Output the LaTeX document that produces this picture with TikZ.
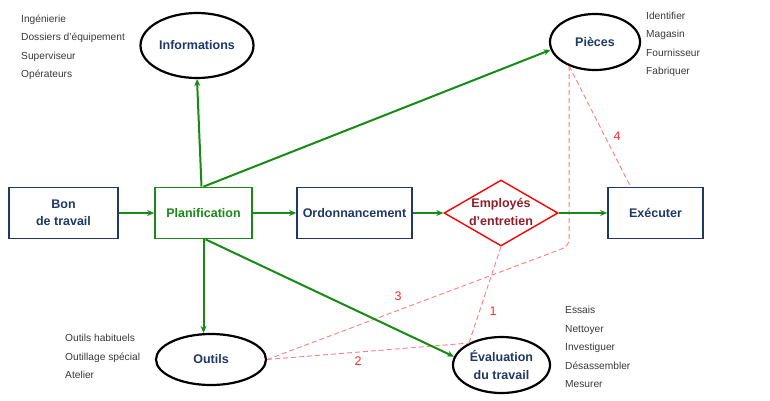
\documentclass[tikz,border=0pt]{standalone}
\usepackage{fontspec}
\setmainfont{Liberation Sans}
\usetikzlibrary{shapes.geometric,arrows.meta,calc}
\definecolor{navy}{HTML}{1F3864}
\definecolor{grn}{HTML}{178A17}
\definecolor{dashred}{HTML}{FF7C80}
\definecolor{maroon}{HTML}{8E1E2A}
\definecolor{txtgray}{HTML}{3A3A3A}
\definecolor{numred}{HTML}{FF2A2A}
\tikzset{
  x=1pt, y=-1pt,
  boxnode/.style={draw=navy, line width=1.7pt, rectangle, text=navy, align=center,
    font=\fontsize{12.5}{17}\selectfont\bfseries, inner sep=0pt},
  ellnode/.style={draw=black, line width=2.2pt, ellipse, text=navy, align=center,
    font=\fontsize{12.5}{18}\selectfont\bfseries, inner sep=0pt},
  flow/.style={draw=grn, line width=2pt, -{Stealth[length=7pt,width=6pt]}},
  dashln/.style={draw=dashred, line width=0.9pt, dash pattern=on 5pt off 3pt},
  sidelist/.style={align=left, text=txtgray, inner sep=0pt, anchor=west,
    font=\fontsize{10.2}{18.5}\selectfont},
  numlbl/.style={text=numred, inner sep=0pt, font=\fontsize{12.5}{14}\selectfont}
}
\begin{document}
\begin{tikzpicture}
\useasboundingbox[fill=white] (0,0) rectangle (770,400);
% boxes
\node[boxnode, minimum width=109pt, minimum height=51pt] (bon) at (63.5,213) {Bon\\de travail};
\node[boxnode, draw=grn, text=grn, minimum width=97pt, minimum height=51pt] (plan) at (203.5,213) {Planification};
\node[boxnode, minimum width=115pt, minimum height=51pt] (ord) at (354.5,213) {Ordonnancement};
\node[diamond, draw=red, line width=1.4pt, minimum width=114pt, minimum height=66pt, inner sep=0pt] (emp) at (501,213) {};
\node[text=maroon, align=center, font=\fontsize{12.5}{18}\selectfont\bfseries, inner sep=0pt] (emptxt) at (501,212) {Employés\\d’entretien};
\node[boxnode, minimum width=95pt, minimum height=51pt] (exe) at (655.5,213) {Exécuter};
% ellipses
\node[ellnode, minimum width=113pt, minimum height=65pt] (info) at (197,45.5) {Informations};
\node[ellnode, minimum width=90pt, minimum height=56pt] (pie) at (595,42) {Pièces};
\node[ellnode, minimum width=110pt, minimum height=51pt] (out) at (211,359.5) {Outils};
\node[ellnode, minimum width=97pt, minimum height=56pt] (eva) at (501.5,365) {Évaluation\\du travail};
% side lists
\node[sidelist] (listinfo) at (21,47.5) {Ingénierie\\Dossiers d’équipement\\Superviseur\\Opérateurs};
\node[sidelist] (listpie) at (646,44.5) {Identifier\\Magasin\\Fournisseur\\Fabriquer};
\node[sidelist] (listout) at (65,356.5) {Outils habituels\\Outillage spécial\\Atelier};
\node[sidelist] (listeva) at (565,347) {Essais\\Nettoyer\\Investiguer\\Désassembler\\Mesurer};
% dashed relations
\coordinate (corner3) at ($(pie.223)+(0,180)$);
\draw[dashln, rounded corners=7pt] (pie.223) -- (corner3) -- (out.east);
\draw[dashln] (pie.223) -- ([xshift=-25pt]exe.north);
\draw[dashln] (emp.south) -- (eva.146);
\draw[dashln] (out.east) -- (eva.146);
\node[numlbl] (n1) at (493,311) {1};
\node[numlbl] (n2) at (358,361) {2};
\node[numlbl] (n3) at (398,296) {3};
\node[numlbl] (n4) at (617,136) {4};
% flow arrows
\draw[flow] (bon.east) -- (plan.west);
\draw[flow] (plan.east) -- (ord.west);
\draw[flow] (ord.east) -- (emp.west);
\draw[flow] (emp.east) -- (exe.west);
\draw[flow] ([xshift=-2pt]plan.north) -- (info.south);
\draw[flow] (plan.north) -- (pie.190);
\draw[flow] (plan.south) -- (plan.south |- out.north);
\draw[flow] ([xshift=2pt]plan.south) -- (eva.170);
\end{tikzpicture}
\end{document}
